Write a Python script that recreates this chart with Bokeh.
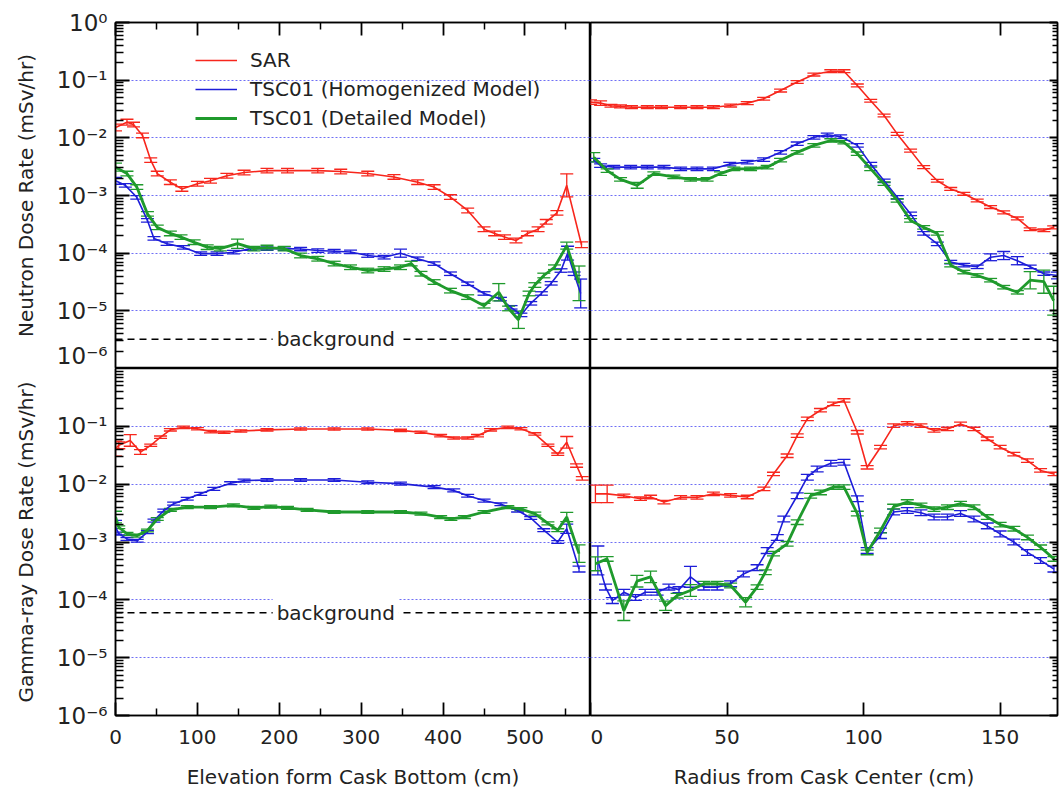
import numpy as np
from bokeh.plotting import figure
from bokeh.models import (Range1d, FixedTicker, CustomJSTickFormatter, ColumnDataSource,
                          Whisker, TeeHead, Span, Label, Legend, LegendItem)
from bokeh.layouts import gridplot
from bokeh.embed import file_html
from bokeh.resources import INLINE

FONT = "DejaVu Sans"
TXT = "#222222"
RED = "#f7261c"
BLUE = "#1d1dd8"
GREEN = "#1f9a2c"

# ---------------- data ----------------
series_names = ["SAR", "TSC01 (Homogenized Model)", "TSC01 (Detailed Model)"]

# Neutron dose rate vs elevation (cm)
sar_n_x = [0, 14, 22, 33, 43, 51, 67, 81, 100, 116, 136, 157, 185, 210, 247, 275, 308, 340, 369, 389,
           409, 430, 450, 463, 475, 489, 503, 516, 526, 539, 551, 569]
sar_n_y = [1.51e-2, 1.87e-2, 1.7e-2, 1.1e-2, 4.1e-3, 2.4e-3, 1.7e-3, 1.3e-3, 1.6e-3, 1.8e-3,
           2.2e-3, 2.5e-3, 2.7e-3, 2.7e-3, 2.7e-3, 2.6e-3, 2.4e-3, 2.1e-3, 1.7e-3, 1.4e-3,
           9.4e-4, 5.5e-4, 2.6e-4, 2.2e-4, 1.9e-4, 1.66e-4, 2.2e-4, 2.6e-4, 3.5e-4, 5.0e-4,
           1.5e-3, 1.4e-4]
sar_n_err = {"default": 0.04, 0: 0.06, 14: 0.05, 551: 0.2, 569: 0.05}

hom_n_x = [0, 12, 26, 39, 47, 63, 83, 104, 124, 144, 165, 185, 206, 226, 247, 267, 287, 308, 328, 348,
           369, 389, 409, 430, 450, 470, 483, 495, 507, 520, 532, 544, 552, 560, 568]
hom_n_y = [1.8e-3, 1.5e-3, 9.3e-4, 3.7e-4, 1.8e-4, 1.46e-4, 1.26e-4, 9.8e-5, 9.8e-5, 1.04e-4,
           1.2e-4, 1.2e-4, 1.2e-4, 1.18e-4, 1.11e-4, 1.08e-4, 1.05e-4, 9.1e-5, 8.5e-5, 1.0e-4,
           8.0e-5, 6.6e-5, 4.4e-5, 2.95e-5, 2.0e-5, 1.6e-5, 1.15e-5, 8.5e-6, 1.35e-5, 2.0e-5,
           3.0e-5, 5.0e-5, 1.0e-4, 4.4e-5, 2.0e-5]
hom_n_err = {"default": 0.03, 0: 0.06, 348: 0.07, 552: 0.12, 568: 0.25}

det_n_x = [0, 14, 26, 39, 51, 67, 80, 96, 112, 128, 149, 169, 185, 206, 226, 247, 267, 287, 308, 328,
           348, 361, 373, 389, 409, 430, 450, 468, 480, 492, 505, 512, 523, 536, 551, 566]
det_n_y = [3.1e-3, 2.4e-3, 1.4e-3, 4.8e-4, 2.8e-4, 2.2e-4, 1.9e-4, 1.55e-4, 1.27e-4, 1.2e-4,
           1.46e-4, 1.2e-4, 1.25e-4, 1.2e-4, 9.1e-5, 8.0e-5, 6.6e-5, 5.7e-5, 5.0e-5, 5.3e-5,
           5.7e-5, 6.6e-5, 4.4e-5, 3.16e-5, 2.24e-5, 1.73e-5, 1.23e-5, 2.1e-5, 1.1e-5, 7.0e-6,
           2.0e-5, 2.8e-5, 4.1e-5, 5.7e-5, 1.35e-4, 3.0e-5]
det_n_err = {"default": 0.04, 0: 0.07, 149: 0.08, 468: 0.15, 492: 0.15, 551: 0.06, 566: 0.3}

# Neutron dose rate vs radius (cm)
sar_r_x = [0, 3.7, 7.5, 11, 15, 20.8, 26, 33, 39, 45, 51.3, 57.4, 63.4, 69.6, 75.7, 81.8, 88, 92.8,
           97.7, 102.6, 107.5, 112.3, 117.2, 122, 127, 131.9, 136.7, 141.6, 146.5, 151.3, 156.3,
           161, 166, 169.6]
sar_r_y = [0.0416, 0.040, 0.036, 0.035, 0.034, 0.034, 0.034, 0.034, 0.034, 0.034, 0.0363, 0.040,
           0.0476, 0.066, 0.093, 0.125, 0.143, 0.143, 0.081, 0.044, 0.0244, 0.0117, 0.006, 0.0031,
           0.0018, 0.0013, 0.00107, 0.00082, 0.00063, 0.00051, 0.0004, 0.00026, 0.00025, 0.00028]
sar_r_err = {"default": 0.025, 0: 0.04, 3.7: 0.04}

hom_r_x = [1.2, 3.7, 8.5, 14.7, 20.8, 26.9, 33, 39, 45, 51, 57.4, 63.4, 69.6, 75.7, 81.8, 86.7, 91.6,
           97.7, 102.6, 107.5, 112.3, 117.2, 122, 127, 131.9, 136.7, 141.6, 146.5, 151.3, 156.3,
           161, 166, 171]
hom_r_y = [0.0041, 0.0033, 0.0031, 0.0031, 0.0031, 0.0031, 0.0029, 0.0029, 0.0029, 0.0035, 0.0038,
           0.0042, 0.0056, 0.0079, 0.0102, 0.0113, 0.0105, 0.0074, 0.0035, 0.0018, 0.00093, 0.00048,
           0.00022, 0.000145, 0.00007, 0.000062, 0.000058, 0.000085, 0.000091, 0.000074, 0.000058,
           0.000044, 0.000041]
hom_r_err = {"default": 0.03, 146.5: 0.06, 151.3: 0.07, 156.3: 0.07, 171: 0.06}

det_r_x = [1.2, 6.1, 11, 17.1, 23.2, 30.5, 36.6, 42.7, 47.6, 52.5, 58.6, 64.7, 69.6, 75.7, 81.8, 88,
           92.8, 97.7, 102.6, 107.5, 112.3, 117.2, 122, 127, 131.9, 136.7, 141.6, 146.5, 151.3,
           156.3, 161, 166, 169.6]
det_r_y = [0.0046, 0.0027, 0.0019, 0.0015, 0.0024, 0.0021, 0.0019, 0.0019, 0.0024, 0.0029, 0.0029,
           0.0031, 0.0041, 0.0056, 0.0074, 0.0090, 0.0084, 0.0053, 0.0029, 0.0016, 0.00082, 0.00037,
           0.00028, 0.00022, 0.000062, 0.000047, 0.000041, 0.000034, 0.0000257, 0.000021, 0.000034,
           0.000032, 0.000015]
det_r_err = {"default": 0.03, 1.2: 0.08, 17.1: 0.05, 161: 0.15, 166: 0.2, 169.6: 0.25}

# Gamma-ray dose rate vs elevation (cm)
sar_g_x = [0, 4, 18, 30.5, 43, 55, 67, 83, 100, 116, 132.5, 153, 185, 226, 267, 308, 348, 373, 397,
           413, 430, 442, 458, 479, 495, 512, 528, 540, 551, 563, 570]
sar_g_y = [0.041, 0.047, 0.057, 0.036, 0.047, 0.065, 0.087, 0.096, 0.091, 0.081, 0.079, 0.083, 0.087,
           0.090, 0.090, 0.090, 0.085, 0.079, 0.069, 0.063, 0.063, 0.069, 0.087, 0.096, 0.091, 0.074,
           0.047, 0.033, 0.053, 0.021, 0.0126]
sar_g_err = {"default": 0.02, 0: 0.13, 4: 0.06, 18: 0.1, 30.5: 0.04, 551: 0.1, 563: 0.03, 570: 0.03}

hom_g_x = [0, 4, 14, 26.5, 39, 47, 59, 71, 87.6, 104, 120, 140.6, 157, 185, 226, 267, 308, 348, 389,
           413, 430, 450, 470.6, 491, 507, 523, 540, 551, 566]
hom_g_y = [0.0018, 0.0014, 0.00113, 0.00105, 0.00148, 0.00234, 0.0035, 0.0046, 0.0056, 0.0068,
           0.0083, 0.0104, 0.0115, 0.0118, 0.0118, 0.0118, 0.0108, 0.0102, 0.0089, 0.0078, 0.0063,
           0.0052, 0.0045, 0.0035, 0.0026, 0.0016, 0.001, 0.0017, 0.00034]
hom_g_err = {"default": 0.025, 0: 0.12, 551: 0.08, 566: 0.05}

det_g_x = [0, 4, 14, 26.5, 39, 51, 67, 87.6, 116, 144, 169, 189.6, 210, 234, 267, 308, 348, 373, 397,
           409.5, 426, 450, 479, 495, 512, 528, 540, 551, 566]
det_g_y = [0.0027, 0.0018, 0.00138, 0.00129, 0.00158, 0.0025, 0.0036, 0.004, 0.004, 0.0043, 0.0039,
           0.0041, 0.0039, 0.0036, 0.0033, 0.0033, 0.0033, 0.0031, 0.0027, 0.0025, 0.0027, 0.0033,
           0.004, 0.0037, 0.0031, 0.0021, 0.0016, 0.0027, 0.00063]
det_g_err = {"default": 0.025, 0: 0.1, 551: 0.08, 566: 0.15}

# Gamma-ray dose rate vs radius (cm)
sar_rg_x = [1.8, 6.1, 12.2, 18.3, 22, 26.9, 33, 39, 45, 51.3, 57.4, 63.5, 67, 72, 75.7, 79.4, 84.2, 89,
            92.8, 97.7, 101.3, 106.2, 111, 116, 121, 125.8, 130.7, 135.5, 140.4, 145.3, 150, 155,
            160, 164.8, 169.7]
sar_rg_y = [0.0068, 0.0068, 0.0063, 0.0056, 0.006, 0.0049, 0.0059, 0.0059, 0.0068, 0.0064, 0.006,
            0.0083, 0.015, 0.031, 0.069, 0.135, 0.19, 0.245, 0.28, 0.079, 0.0196, 0.0436, 0.103,
            0.113, 0.103, 0.085, 0.09, 0.11, 0.09, 0.061, 0.0436, 0.033, 0.0256, 0.0173, 0.015]
sar_rg_err = {"default": 0.03, 1.8: 0.15, 6.1: 0.15}

hom_rg_x = [2.7, 5.5, 8, 12.2, 16.5, 20, 24.4, 28.7, 32.4, 36.6, 41.5, 46.4, 51.3, 56, 61, 64.7, 68.4,
            70.8, 75.7, 79.4, 83, 88, 92.8, 97.7, 101.3, 106.2, 111, 116, 121, 125.8, 130.7, 135.5,
            140.4, 145.3, 150, 155, 160, 164.8, 169.7]
hom_rg_y = [0.00048, 0.000166, 0.000097, 0.000135, 0.00011, 0.000135, 0.000135, 0.000166, 0.00015,
            0.00025, 0.000166, 0.000166, 0.00019, 0.00028, 0.00036, 0.00071, 0.0012, 0.0025, 0.0063,
            0.0132, 0.0183, 0.023, 0.024, 0.0056, 0.00071, 0.00129, 0.0033, 0.0035, 0.0032, 0.0027,
            0.0027, 0.0031, 0.0025, 0.0019, 0.00138, 0.001, 0.00066, 0.00048, 0.00034]
hom_rg_err = {"default": 0.05, 2.7: 0.25, 36.6: 0.18}

det_rg_x = [1.8, 6.1, 12.2, 17, 22, 27.5, 31.7, 36.6, 41.5, 46.4, 51.3, 56.8, 61, 64, 67, 72, 75.7,
            80.6, 84.2, 89, 92.8, 97.7, 101.3, 106.2, 111, 116, 121, 125.8, 130.7, 135.5, 140.4,
            145.3, 150, 155, 160, 164.8, 169.7]
det_rg_y = [0.00042, 0.00051, 0.000065, 0.00021, 0.00025, 0.000079, 0.000118, 0.000145, 0.00019,
            0.00019, 0.000177, 0.000091, 0.000166, 0.0003, 0.00063, 0.00093, 0.0022, 0.0063, 0.0072,
            0.0089, 0.0089, 0.0031, 0.00066, 0.00158, 0.0041, 0.0049, 0.0043, 0.0037, 0.004, 0.0046,
            0.004, 0.0027, 0.002, 0.0017, 0.0012, 0.00081, 0.00051]
det_rg_err = {"default": 0.04, 1.8: 0.12, 12.2: 0.17, 17: 0.1, 22: 0.1, 27.5: 0.08, 36.6: 0.1, 56.8: 0.08}

neutron_background = 3.2e-6
gamma_background = 6.0e-5
background_label_x = 269

ELEV_END = 580
RADIUS_END = 171
Y_START, Y_END = 1e-6, 1.0

elev_ticks = [0, 100, 200, 300, 400, 500]
elev_minor = [50, 150, 250, 350, 450, 550]
radius_ticks = [0, 50, 100, 150]
decades_top = [1e-6, 1e-5, 1e-4, 1e-3, 1e-2, 1e-1, 1e0]
decades_bottom = [1e-6, 1e-5, 1e-4, 1e-3, 1e-2, 1e-1]
grid_decades = [1e-5, 1e-4, 1e-3, 1e-2, 1e-1]
minor_log = [m * 10.0 ** k for k in range(-6, 0) for m in range(2, 10)]

# ---------------- helpers ----------------
SUP_JS = """
const sup = {"0":"\u2070","1":"\u00b9","2":"\u00b2","3":"\u00b3","4":"\u2074","5":"\u2075",
             "6":"\u2076","7":"\u2077","8":"\u2078","9":"\u2079","-":"\u207b"};
const e = Math.round(Math.log10(tick));
let s = "10";
for (const c of String(e)) { s += sup[c]; }
return s;
"""


def style_axis(ax, show_labels):
    ax.axis_line_color = "black"
    ax.axis_line_width = 1.5
    ax.major_tick_line_color = "black"
    ax.minor_tick_line_color = "black"
    ax.major_tick_line_width = 1.8
    ax.minor_tick_line_width = 1.5
    ax.major_tick_out = 0
    ax.minor_tick_out = 0
    ax.major_label_text_font = FONT
    ax.major_label_text_color = TXT
    ax.axis_label_text_font = FONT
    ax.axis_label_text_font_style = "normal"
    ax.axis_label_text_font_size = "20px"
    ax.axis_label_text_color = TXT
    if not show_labels:
        # tick marks only: labels are not painted
        ax.major_label_text_font_size = "1px"
        ax.major_label_text_color = None
        ax.major_label_standoff = 0


def make_panel(x_end, is_left, is_top, xlabel=None, ylabel=None):
    p = figure(frame_width=475 if is_left else 467,
               frame_height=346 if is_top else 347,
               x_range=Range1d(0, x_end), y_range=Range1d(Y_START, Y_END),
               y_axis_type="log",
               x_axis_location="above" if is_top else "below",
               y_axis_location="left" if is_left else "right",
               min_border_left=115 if is_left else 0,
               min_border_right=0 if is_left else 3,
               min_border_top=22 if is_top else 0,
               min_border_bottom=0 if is_top else 78,
               output_backend="svg", toolbar_location=None)
    p.background_fill_color = "white"
    p.border_fill_color = "white"
    p.outline_line_color = "black"
    p.outline_line_width = 1.5

    xmaj = elev_ticks if is_left else radius_ticks
    xmin = elev_minor if is_left else []
    ymaj = decades_top if is_top else decades_bottom

    xa = p.xaxis[0]
    style_axis(xa, not is_top)
    xa.ticker = FixedTicker(ticks=xmaj, minor_ticks=xmin)
    xa.major_tick_in = 13
    xa.minor_tick_in = 7
    if not is_top:
        xa.major_label_text_font_size = "20px"
        xa.major_label_standoff = 14
        xa.axis_label = xlabel
        xa.axis_label_standoff = 18

    ya = p.yaxis[0]
    style_axis(ya, is_left)
    ya.ticker = FixedTicker(ticks=ymaj, minor_ticks=minor_log)
    ya.major_tick_in = 14 if is_left else 8
    ya.minor_tick_in = 8 if is_left else 5
    if is_left:
        ya.formatter = CustomJSTickFormatter(code=SUP_JS)
        ya.major_label_text_font_size = "23px"
        ya.major_label_standoff = 8
        ya.axis_label = ylabel
        ya.axis_label_standoff = 16

    p.xgrid.visible = False
    p.ygrid.ticker = FixedTicker(ticks=grid_decades)
    p.ygrid.grid_line_color = "#6f6ff5"
    p.ygrid.grid_line_dash = "2 2"
    p.ygrid.grid_line_width = 1
    return p


def err_of(err, x):
    if x in err:
        return err[x]
    if float(x).is_integer() and int(x) in err:
        return err[int(x)]
    return err["default"]


def add_series(p, xs, ys, err, color, width):
    xs = np.asarray(xs, dtype=float)
    ys = np.asarray(ys, dtype=float)
    e = np.array([err_of(err, x) for x in xs])
    src = ColumnDataSource(dict(x=xs, y=ys, lo=ys / 10 ** e, hi=ys * 10 ** e))
    r = p.line("x", "y", source=src, line_color=color, line_width=width)
    w = Whisker(source=src, base="x", lower="lo", upper="hi", dimension="height",
                line_color=color, line_width=1.3,
                upper_head=TeeHead(size=13, line_color=color, line_width=1.3),
                lower_head=TeeHead(size=13, line_color=color, line_width=1.3))
    p.add_layout(w)
    return r


def add_background(p, level, with_label):
    p.add_layout(Span(location=level, dimension="width", line_color="black",
                      line_dash="7 5", line_width=1.5))
    if with_label:
        p.add_layout(Label(x=background_label_x, y=level, text="background",
                           text_align="center", text_baseline="middle",
                           text_font=FONT, text_font_size="20px", text_color=TXT,
                           background_fill_color="white", padding=4))


# ---------------- panels ----------------
tl = make_panel(ELEV_END, True, True, ylabel="Neutron Dose Rate (mSv/hr)")
tr = make_panel(RADIUS_END, False, True)
bl = make_panel(ELEV_END, True, False, xlabel="Elevation form Cask Bottom (cm)",
                ylabel="Gamma-ray Dose Rate (mSv/hr)")
br = make_panel(RADIUS_END, False, False, xlabel="Radius from Cask Center (cm)")

add_background(tl, neutron_background, True)
add_background(tr, neutron_background, False)
add_background(bl, gamma_background, True)
add_background(br, gamma_background, False)

r1 = add_series(tl, sar_n_x, sar_n_y, sar_n_err, RED, 1.6)
r2 = add_series(tl, hom_n_x, hom_n_y, hom_n_err, BLUE, 1.6)
r3 = add_series(tl, det_n_x, det_n_y, det_n_err, GREEN, 2.8)

add_series(tr, sar_r_x, sar_r_y, sar_r_err, RED, 1.6)
add_series(tr, hom_r_x, hom_r_y, hom_r_err, BLUE, 1.6)
add_series(tr, det_r_x, det_r_y, det_r_err, GREEN, 2.8)

add_series(bl, sar_g_x, sar_g_y, sar_g_err, RED, 1.6)
add_series(bl, hom_g_x, hom_g_y, hom_g_err, BLUE, 1.6)
add_series(bl, det_g_x, det_g_y, det_g_err, GREEN, 2.8)

add_series(br, sar_rg_x, sar_rg_y, sar_rg_err, RED, 1.6)
add_series(br, hom_rg_x, hom_rg_y, hom_rg_err, BLUE, 1.6)
add_series(br, det_rg_x, det_rg_y, det_rg_err, GREEN, 2.8)

legend = Legend(items=[LegendItem(label=series_names[0], renderers=[r1]),
                       LegendItem(label=series_names[1], renderers=[r2]),
                       LegendItem(label=series_names[2], renderers=[r3])],
                location=(80, 236), orientation="vertical")
legend.border_line_color = None
legend.background_fill_alpha = 0
legend.label_text_font = FONT
legend.label_text_font_size = "20px"
legend.label_text_color = TXT
legend.glyph_width = 42
legend.glyph_height = 28
legend.label_height = 28
legend.spacing = 1
legend.padding = 0
legend.margin = 0
legend.label_standoff = 13
tl.add_layout(legend)

grid = gridplot([[tl, tr], [bl, br]], toolbar_location=None)

open("out.html", "w").write(file_html(grid, INLINE))
